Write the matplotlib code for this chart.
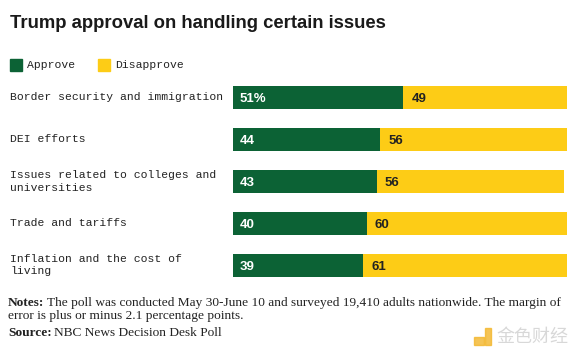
import matplotlib.pyplot as plt
import matplotlib.transforms as mtransforms
from matplotlib.patches import Rectangle

issues = ["Border security and immigration", "DEI efforts",
          "Issues related to colleges and\nuniversities", "Trade and tariffs",
          "Inflation and the cost of\nliving"]
approve = [51, 44, 43, 40, 39]
disapprove = [49, 56, 56, 60, 61]
approve_labels = ["51%", "44", "43", "40", "39"]
disapprove_labels = ["49", "56", "56", "60", "61"]

GREEN = "#0c6235"
YELLOW = "#fdcc16"
W, H = 580, 356

fig = plt.figure(figsize=(W / 100, H / 100), dpi=100)
fig.patch.set_facecolor("white")

# bar area, placed in pixel terms
ax = fig.add_axes([233 / W, 1 - 286 / H, 334 / W, (286 - 76.5) / H])
ypos = list(range(len(issues)))
ax.barh(ypos, approve, height=0.55, color=GREEN)
ax.barh(ypos, disapprove, left=approve, height=0.55, color=YELLOW)
ax.set_xlim(0, 100)
ax.set_ylim(4.5, -0.5)
ax.axis("off")

sans = ["Liberation Sans", "DejaVu Sans"]
for i in ypos:
    ax.text(2, i, approve_labels[i], color="white", fontsize=9.5, fontweight="bold",
            family=sans, va="center_baseline", ha="left")
    ax.text(approve[i] + 2.5, i, disapprove_labels[i], color="#222222", fontsize=9.5,
            fontweight="bold", family=sans, va="center_baseline", ha="left")

# category labels on the left
trans = mtransforms.blended_transform_factory(fig.transFigure, ax.transData)
for i, lab in enumerate(issues):
    ax.text(10 / W, i, lab, transform=trans, fontsize=8.2, family="Liberation Mono",
            va="center", ha="left", color="#222222", linespacing=1.35)

# title
fig.text(10 / W, 1 - 23 / H, "Trump approval on handling certain issues", fontsize=13.3,
         fontweight="bold", family=sans, va="center", ha="left", color="#1a1a1a")

# legend
for x0, lab, col in [(10, "Approve", GREEN), (98, "Disapprove", YELLOW)]:
    fig.patches.append(Rectangle((x0 / W, 1 - 71 / H), 12 / W, 12 / H,
                                 transform=fig.transFigure, color=col))
    fig.text((x0 + 17) / W, 1 - 65 / H, lab, fontsize=8.2, family="Liberation Mono",
             va="center", ha="left", color="#222222")

# notes
serif = "Liberation Serif"
fs = 9.6
fig.text(8 / W, 1 - 297 / H, "Notes:", fontsize=fs, family=serif,
         fontweight="bold", va="top", ha="left", color="#222222")
fig.text(47 / W, 1 - 297 / H,
         "The poll was conducted May 30-June 10 and surveyed 19,410 adults "
         "nationwide. The margin of", fontsize=fs, family=serif, va="top", ha="left",
         color="#222222")
fig.text(8 / W, 1 - 310 / H, "error is plus or minus 2.1 percentage points.",
         fontsize=fs, family=serif, va="top", ha="left", color="#222222")
fig.text(8 / W, 1 - 327 / H, "Source:", fontsize=fs, family=serif, fontweight="bold",
         va="top", ha="left", color="#222222")
fig.text(54 / W, 1 - 327 / H, "NBC News Decision Desk Poll", fontsize=fs, family=serif,
         va="top", ha="left", color="#222222")

# watermark
fig.patches.append(Rectangle((474 / W, 1 - 345 / H), 10 / W, 8 / H,
                             transform=fig.transFigure, color="#f3b62a", alpha=0.8))
fig.patches.append(Rectangle((485 / W, 1 - 345 / H), 6 / W, 17 / H,
                             transform=fig.transFigure, color="#f3b62a", alpha=0.8))
fig.text(496 / W, 1 - 337 / H, "金色财经", fontsize=13, family="Noto Sans CJK SC",
         va="center", ha="left", color="#d8d8d8")

fig.savefig("out.png", dpi=100, facecolor="white")
